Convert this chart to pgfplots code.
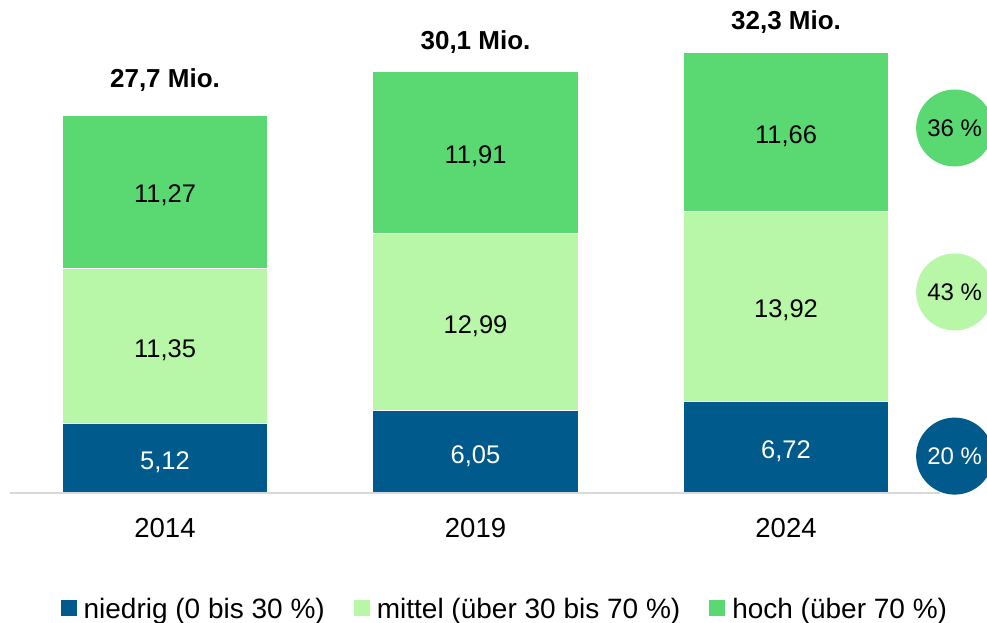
\documentclass[border=0pt]{standalone}
\usepackage{fontspec}
\setmainfont{Liberation Sans}
\usepackage{pgfplots}
\usepackage{pgfplotstable}
\pgfplotsset{compat=1.18}
\definecolor{cblue}{RGB}{0,90,140}
\definecolor{clight}{RGB}{183,247,167}
\definecolor{cgreen}{RGB}{90,217,115}
\newcommand\labfont{\fontsize{25.5}{28}\selectfont}
\newcommand\tickfont{\fontsize{27.5}{30}\selectfont}
\newcommand\legfont{\fontsize{28}{30}\selectfont}
\newcommand\circfont{\fontsize{24}{26}\selectfont}
\newcommand\totfont{\fontsize{26}{28}\selectfont\bfseries}
\pgfplotstableread{
x low mid high
0 5.12 11.35 11.27
1 6.05 12.99 11.91
2 6.72 13.92 11.66
}\data
\begin{document}
\begin{tikzpicture}
\begin{axis}[
  at={(0,0)}, anchor=south west,
  scale only axis, width=987pt, height=622pt,
  xmin=-0.5314, xmax=2.6473, ymin=-9.46, ymax=36.17,
  ybar stacked, bar width=0.6634,
  axis line style={draw=none},
  ytick=\empty, xtick={0,1,2}, xticklabels={2014,2019,2024},
  major tick length=0,
  xticklabel style={anchor=center, yshift=94pt, font=\tickfont},
  clip=false,
  legend columns=3,
  legend style={at={(0.512,0.021)}, anchor=center, draw=none, fill=none,
    font=\legfont, nodes={inner sep=3pt},
    /tikz/every odd column/.append style={column sep=4pt},
    /tikz/every even column/.append style={column sep=26pt}},
  legend image code/.code={\fill[#1,draw=none] (0pt,-7pt) rectangle (16pt,9pt);},
]
\draw[color={rgb,255:red,217;green,217;blue,217}, line width=2pt] (axis cs:-0.5,0) -- (axis cs:2.496,0);
\addplot[fill=cblue, draw=white, line width=1.2pt] table[x=x,y=low]{\data};
\addlegendentry{niedrig (0 bis 30 \%)}
\addplot[fill=clight, draw=white, line width=1.2pt] table[x=x,y=mid]{\data};
\addlegendentry{mittel (über 30 bis 70 \%)}
\addplot[fill=cgreen, draw=white, line width=1.2pt] table[x=x,y=high]{\data};
\addlegendentry{hoch (über 70 \%)}
\coordinate (a1) at (axis cs:0,2.56);
\coordinate (a2) at (axis cs:0,10.795);
\coordinate (a3) at (axis cs:0,22.105);
\coordinate (b1) at (axis cs:1,3.025);
\coordinate (b2) at (axis cs:1,12.545);
\coordinate (b3) at (axis cs:1,24.995);
\coordinate (c1) at (axis cs:2,3.36);
\coordinate (c2) at (axis cs:2,13.68);
\coordinate (c3) at (axis cs:2,26.47);
% totals
\node[font=\totfont] at (axis cs:0,30.30) {27,7 Mio.};
\node[font=\totfont] at (axis cs:1,33.09) {30,1 Mio.};
\node[font=\totfont] at (axis cs:2,34.56) {32,3 Mio.};
% circles
\node[circle, fill=cgreen, minimum size=77pt, inner sep=0pt, font=\circfont] at (axis cs:2.543,26.78) {36 \%};
\node[circle, fill=clight, minimum size=77pt, inner sep=0pt, font=\circfont] at (axis cs:2.543,14.75) {43 \%};
\node[circle, fill=cblue, minimum size=77pt, inner sep=0pt, font=\circfont, text=white] at (axis cs:2.543,2.71) {20 \%};
\end{axis}
\begin{scope}[every node/.style={font=\labfont, yshift=-4pt}]
\node[text=white] at (a1) {5,12};
\node at (a2) {11,35};
\node at (a3) {11,27};
\node[text=white] at (b1) {6,05};
\node at (b2) {12,99};
\node at (b3) {11,91};
\node[text=white] at (c1) {6,72};
\node at (c2) {13,92};
\node at (c3) {11,66};
\end{scope}
\pgfresetboundingbox
\useasboundingbox (0,0) rectangle (987pt,622pt);
\end{tikzpicture}
\end{document}
